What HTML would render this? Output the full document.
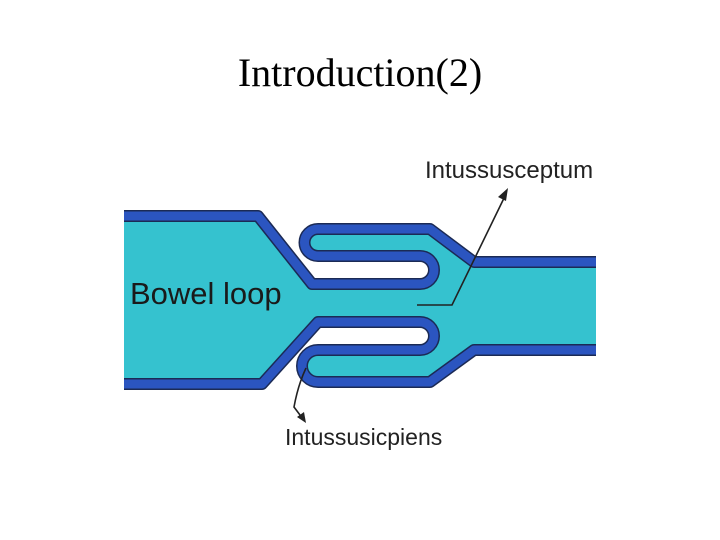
<!DOCTYPE html>
<html><head><style>
html,body{margin:0;padding:0;background:#fff;width:720px;height:540px;overflow:hidden}
</style></head><body>
<svg width="720" height="540" viewBox="0 0 720 540" xmlns="http://www.w3.org/2000/svg">
<text x="360" y="86" text-anchor="middle" font-family="Liberation Serif, serif" font-size="40" fill="#000">Introduction(2)</text>
<g stroke-linejoin="round">
<path d="M124,216 L258,216 L312,284 L420,284 A14,14 0 0 0 420,256 L318,256 A13.5,13.5 0 0 1 318,229 L430,229 L474,262 L596,262 L596,350 L474,350 L430,382 L318,382 A16,16 0 0 1 318,350 L420,350 A14,14 0 0 0 420,322 L318,322 L262,384 L124,384 Z" fill="#35c2cf" stroke="none"/>
<path d="M124,216 L258,216 L312,284 L420,284 A14,14 0 0 0 420,256 L318,256 A13.5,13.5 0 0 1 318,229 L430,229 L474,262 L596,262 M596,350 L474,350 L430,382 L318,382 A16,16 0 0 1 318,350 L420,350 A14,14 0 0 0 420,322 L318,322 L262,384 L124,384" fill="none" stroke="#1b2a55" stroke-width="12"/>
<path d="M124,216 L258,216 L312,284 L420,284 A14,14 0 0 0 420,256 L318,256 A13.5,13.5 0 0 1 318,229 L430,229 L474,262 L596,262 M596,350 L474,350 L430,382 L318,382 A16,16 0 0 1 318,350 L420,350 A14,14 0 0 0 420,322 L318,322 L262,384 L124,384" fill="none" stroke="#2b55c0" stroke-width="9"/>
</g>
<text x="130" y="304" font-family="Liberation Sans, sans-serif" font-size="31" fill="#1a1a1a">Bowel loop</text>
<text x="425" y="178" font-family="Liberation Sans, sans-serif" font-size="24" fill="#222">Intussusceptum</text>
<text x="285" y="445" font-family="Liberation Sans, sans-serif" font-size="23" fill="#222">Intussusicpiens</text>
<path d="M417,305 L452,305 L506,194" fill="none" stroke="#222" stroke-width="1.6"/>
<path d="M508,188 L498,197 L506,201 Z" fill="#222"/>
<path d="M306,368 Q298,385 294,407 L303,419" fill="none" stroke="#222" stroke-width="1.6"/>
<path d="M306,423 L297,417 L304,412 Z" fill="#222"/>
</svg>
</body></html>
